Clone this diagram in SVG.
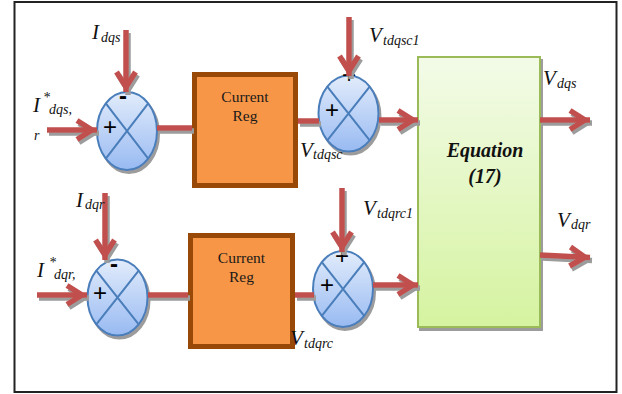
<svg xmlns="http://www.w3.org/2000/svg" width="622" height="394" viewBox="0 0 622 394">
<style>
.lab{font-family:"Liberation Serif","Times New Roman",serif;font-style:italic;font-size:21px;fill:#111}
.sub{font-size:14px}
.sum{fill:url(#gBlue);stroke:#4A7EBB;stroke-width:2}
.x{stroke:#4A7EBB;stroke-width:2;fill:none}
.sign{font-family:"Liberation Sans",Arial,sans-serif;font-size:24px;fill:#000;text-anchor:middle}
.minus{font-family:"Liberation Sans",Arial,sans-serif;font-size:24px;font-weight:bold;fill:#000;text-anchor:middle}
.reg{fill:#F79646;stroke:#984807;stroke-width:5}
.regt{font-family:"Liberation Serif","Times New Roman",serif;font-size:15.5px;fill:#1a1a1a;text-anchor:middle}
.eqt{font-family:"Liberation Serif","Times New Roman",serif;font-size:20px;font-weight:bold;font-style:italic;fill:#111;text-anchor:middle}
.wire{stroke:#C0504D;stroke-width:5.5;fill:none}
.arr{marker-end:url(#head)}
</style>
<defs>
<linearGradient id="gBlue" x1="0" y1="0" x2="0" y2="1">
<stop offset="0" stop-color="#E2ECFB"/>
<stop offset="1" stop-color="#98BAF2"/>
</linearGradient>
<linearGradient id="gGreen" x1="0" y1="0" x2="0" y2="1">
<stop offset="0" stop-color="#F3FBE8"/>
<stop offset="1" stop-color="#D5F3A0"/>
</linearGradient>
<filter id="sh" filterUnits="userSpaceOnUse" x="0" y="0" width="622" height="394">
<feOffset in="SourceAlpha" dx="2" dy="3" result="o"/>
<feFlood flood-color="#9C9C9C"/>
<feComposite in2="o" operator="in"/>
<feMerge><feMergeNode/><feMergeNode in="SourceGraphic"/></feMerge>
</filter>
<marker id="head" markerUnits="userSpaceOnUse" viewBox="-26 -14 30 28" refX="0" refY="0" markerWidth="30" markerHeight="28" orient="auto" overflow="visible">
<path d="M-20,-9.5 L-5,0 L-20,9.5" stroke="#C0504D" stroke-width="5.5" fill="none" stroke-linejoin="miter"/>
</marker>
</defs>

<rect x="14.5" y="2" width="602" height="390" fill="#fff" stroke="#222" stroke-width="2"/>

<g id="sum1">
<ellipse class="sum" cx="127" cy="131" rx="30" ry="39" filter="url(#sh)"/>
<path class="x" d="M105.8,103.4 L148.2,158.6 M148.2,103.4 L105.8,158.6"/>
<text class="sign" x="110" y="135">+</text>
<text class="minus" x="123" y="104">-</text>
</g>

<g id="sum2">
<ellipse class="sum" cx="348.5" cy="113.5" rx="30" ry="38" filter="url(#sh)"/>
<path class="x" d="M327.3,86.6 L369.7,140.4 M369.7,86.6 L327.3,140.4"/>
<text class="sign" x="332" y="118">+</text>
<text class="sign" x="349" y="83">+</text>
</g>

<g id="sum3">
<ellipse class="sum" cx="117.5" cy="297.5" rx="30" ry="38" filter="url(#sh)"/>
<path class="x" d="M96.3,270.6 L138.7,324.4 M138.7,270.6 L96.3,324.4"/>
<text class="sign" x="100" y="301">+</text>
<text class="minus" x="114" y="272">-</text>
</g>

<g id="sum4">
<ellipse class="sum" cx="343" cy="289" rx="30" ry="38" filter="url(#sh)"/>
<path class="x" d="M321.8,262.1 L364.2,315.9 M364.2,262.1 L321.8,315.9"/>
<text class="sign" x="327" y="293">+</text>
<text class="sign" x="342" y="264">+</text>
</g>

<g id="reg1">
<rect class="reg" x="194.5" y="74.5" width="101" height="111"/>
<text class="regt" x="245" y="102">Current</text>
<text class="regt" x="245" y="121">Reg</text>
</g>

<g id="reg2">
<rect class="reg" x="190.5" y="235.5" width="102" height="111"/>
<text class="regt" x="241.5" y="263">Current</text>
<text class="regt" x="241.5" y="282">Reg</text>
</g>

<g id="equation">
<rect x="418" y="57" width="122" height="270" fill="url(#gGreen)" stroke="#9BBB59" stroke-width="2" filter="url(#sh)"/>
<text class="eqt" x="485" y="157">Equation</text>
<text class="eqt" x="485" y="183">(17)</text>
</g>

<g id="connectors" filter="url(#sh)">
<path class="wire arr" d="M47,130 H97"/>
<path class="wire arr" d="M126,30 V92"/>
<path class="wire" d="M157,128 H192"/>
<path class="wire" d="M298,121 H319"/>
<path class="wire arr" d="M349,17 V76"/>
<path class="wire arr" d="M379,120 H418"/>
<path class="wire arr" d="M540,120 H590"/>
<path class="wire arr" d="M37,295 H87"/>
<path class="wire arr" d="M105,193 V260"/>
<path class="wire" d="M148,295 H188"/>
<path class="wire" d="M295,295 H314"/>
<path class="wire arr" d="M342,188 V252"/>
<path class="wire arr" d="M373,285 H418"/>
<path class="wire arr" d="M540,255 L590,257.5"/>
</g>

<g id="labels">
<text class="lab" x="92" y="39">I<tspan class="sub" x="101" y="42">dqs</tspan></text>
<text class="lab" x="33" y="112">I<tspan class="sub" x="43" y="102">*</tspan><tspan class="sub" x="49" y="114">dqs,</tspan></text>
<text class="lab" x="34" y="140"><tspan class="sub">r</tspan></text>
<text class="lab" x="369" y="42">V<tspan class="sub" x="383" y="45">tdqsc1</tspan></text>
<text class="lab" x="300" y="157">V<tspan class="sub" x="313" y="159">tdqsc</tspan></text>
<text class="lab" x="543" y="85">V<tspan class="sub" x="557" y="88">dqs</tspan></text>
<text class="lab" x="76" y="207">I<tspan class="sub" x="85" y="209">dqr</tspan></text>
<text class="lab" x="37" y="277">I<tspan class="sub" x="49" y="267">*</tspan><tspan class="sub" x="54" y="279">dqr,</tspan></text>
<text class="lab" x="363" y="215">V<tspan class="sub" x="377" y="218">tdqrc1</tspan></text>
<text class="lab" x="290" y="345">V<tspan class="sub" x="304" y="348">tdqrc</tspan></text>
<text class="lab" x="557" y="227">V<tspan class="sub" x="571" y="229">dqr</tspan></text>
</g>
</svg>
